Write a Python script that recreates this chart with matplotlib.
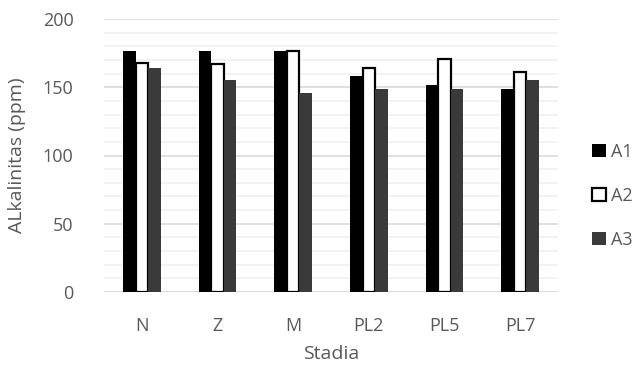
import numpy as np
import matplotlib.pyplot as plt
from matplotlib.ticker import MultipleLocator

plt.rcParams['font.family'] = ['Open Sans', 'DejaVu Sans']

stadia = ['N', 'Z', 'M', 'PL2', 'PL5', 'PL7']
a1 = [176.5, 176.5, 176.5, 158, 152, 149]
a2 = [168, 167, 176.5, 164, 170.5, 161]
a3 = [164, 155, 146, 149, 149, 155]

txt = '#595959'
fig = plt.figure(figsize=(6.44, 3.76), dpi=100)
ax = fig.add_axes([104 / 644, 1 - 292 / 376, 454 / 644, 273 / 376])

x = np.arange(len(stadia))
w = 0.167
ax.bar(x - w, a1, w, color='black', label='A1', zorder=3)
ax.bar(x, a2, w, color='white', edgecolor='black', linewidth=1.6, label='A2', zorder=3)
ax.bar(x + w, a3, w, color='#3a3a3a', label='A3', zorder=3)

ax.set_xlim(-0.5, len(stadia) - 0.5)
ax.set_ylim(0, 200)
ax.yaxis.set_major_locator(MultipleLocator(50))
ax.yaxis.set_minor_locator(MultipleLocator(10))
ax.grid(axis='y', which='major', color='#d9d9d9', linewidth=1.2, zorder=0)
ax.grid(axis='y', which='minor', color='#f0f0f0', linewidth=1.2, zorder=0)
for s in ax.spines.values():
    s.set_visible(False)
ax.axhline(0, color='#d9d9d9', linewidth=1.2, zorder=2)

ax.set_xticks(x)
ax.set_xticklabels(stadia)
ax.tick_params(axis='both', which='both', length=0, labelsize=13, colors=txt)
ax.tick_params(axis='x', pad=18)
ax.tick_params(axis='y', pad=22)

ax.set_xlabel('Stadia', fontsize=14, color=txt, labelpad=7)
ax.set_ylabel('ALkalinitas (ppm)', fontsize=14, color=txt, labelpad=12)

ax.legend(loc='center left', bbox_to_anchor=(592 / 644, 1 - 196 / 376),
          bbox_transform=fig.transFigure, frameon=False,
          fontsize=13, labelcolor=txt, handlelength=0.75, handleheight=0.75,
          handletextpad=0.3, labelspacing=1.45, borderaxespad=0, borderpad=0)

fig.savefig('out.png', dpi=100)
